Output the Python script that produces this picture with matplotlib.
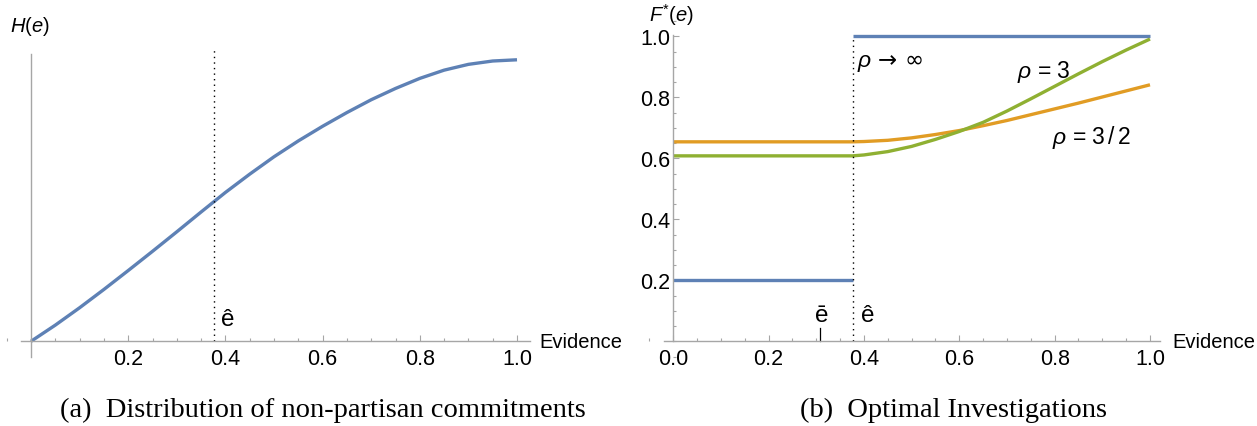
import numpy as np
import matplotlib
matplotlib.use('Agg')
import matplotlib.pyplot as plt
from matplotlib.ticker import MultipleLocator

#%% data
e_hat = 0.376     # dotted threshold
e_bar = 0.307     # small mark on the x axis

# (a) H(e)
e_H = [0.0, 0.05, 0.10, 0.15, 0.20, 0.25, 0.30, 0.35, 0.40, 0.45, 0.50,
       0.55, 0.60, 0.65, 0.70, 0.75, 0.80, 0.85, 0.90, 0.95, 1.0]
H = [0.0, 0.053, 0.110, 0.170, 0.232, 0.295, 0.359, 0.424, 0.488, 0.548, 0.605,
     0.657, 0.705, 0.750, 0.792, 0.829, 0.862, 0.889, 0.908, 0.919, 0.923]

# (b) F*(e)
blue_low = 0.2
blue_high = 1.0
e_F = [0.0, e_hat, 0.40, 0.45, 0.50, 0.55, 0.60, 0.65, 0.70, 0.75, 0.80, 0.85, 0.90, 0.95, 1.0]
F_rho3 = [0.608, 0.608, 0.611, 0.622, 0.639, 0.662, 0.688, 0.718, 0.755, 0.795, 0.836, 0.877, 0.917, 0.955, 0.991]
F_rho15 = [0.654, 0.654, 0.655, 0.659, 0.667, 0.678, 0.691, 0.707, 0.724, 0.743, 0.762, 0.781, 0.801, 0.821, 0.841]

#%% style
plt.rcParams['font.family'] = ['Liberation Sans', 'DejaVu Sans']
plt.rcParams['mathtext.fontset'] = 'custom'
plt.rcParams['mathtext.rm'] = 'Liberation Sans'
plt.rcParams['mathtext.it'] = 'Liberation Sans:italic'
plt.rcParams['mathtext.sf'] = 'Liberation Sans'

BLUE = '#5e81b5'
ORANGE = '#e19c24'
GREEN = '#8fb032'
AX = '#a6a6a6'
FS = 14.5
TFS = 15.5
LW = 2.4

W, Hpx = 1257, 427
fig = plt.figure(figsize=(W / 100, Hpx / 100), dpi=100)


def make_axes(x0, x1, y0, y1, ox, ux, oy, uy):
    # axes box in pixels, and pixel position of data origin / unit size
    ax = fig.add_axes([x0 / W, 1 - y1 / Hpx, (x1 - x0) / W, (y1 - y0) / Hpx])
    ax.set_xlim((x0 - ox) / ux, (x1 - ox) / ux)
    ax.set_ylim((oy - y1) / uy, (oy - y0) / uy)
    ax.patch.set_alpha(0)
    for s in ['top', 'right']:
        ax.spines[s].set_visible(False)
    for s in ['left', 'bottom']:
        ax.spines[s].set_position(('data', 0))
        ax.spines[s].set_color(AX)
        ax.spines[s].set_linewidth(1.0)
    ax.tick_params(which='both', direction='in', colors=AX, labelcolor='black',
                   labelsize=TFS, width=0.8)
    ax.tick_params(which='major', length=4.5)
    ax.tick_params(which='minor', length=2.5)
    return ax


dot_style = dict(color='black', lw=1.0, linestyle=(0, (1, 3)))

#%% (a)
ax1 = make_axes(5, 535, 10, 365, 31, 486, 342.3, 305)
ax1.spines['bottom'].set_bounds(-0.02, 1.027)
ax1.spines['left'].set_bounds(-0.05, 0.942)
ax1.xaxis.set_minor_locator(MultipleLocator(0.05))
ax1.set_xticks([0.2, 0.4, 0.6, 0.8, 1.0])
ax1.set_xticklabels(['0.2', '0.4', '0.6', '0.8', '1.0'])
ax1.set_yticks([])
ax1.tick_params(axis='x', pad=5)

ax1.plot(e_H, H, color=BLUE, lw=LW, solid_capstyle='butt')
ax1.plot([e_hat, e_hat], [0, 0.955], **dot_style)
ax1.text(0.391, 0.073, 'ê', fontsize=FS + 3, va='center', ha='left')
ax1.text(-0.043, 1.034, r'$H(e)$', fontsize=FS, va='center', ha='left')
ax1.text(1.047, 0.0, 'Evidence', fontsize=FS, va='center', ha='left')

#%% (b)
ax2 = make_axes(640, 1165, 10, 365, 673.3, 476.7, 342.3, 305)
ax2.spines['bottom'].set_bounds(-0.02, 1.02)
ax2.spines['left'].set_bounds(0, 1.005)
ax2.xaxis.set_minor_locator(MultipleLocator(0.05))
ax2.set_xticks([0.0, 0.2, 0.4, 0.6, 0.8, 1.0])
ax2.set_xticklabels(['0.0', '0.2', '0.4', '0.6', '0.8', '1.0'])
ax2.set_yticks([0.2, 0.4, 0.6, 0.8, 1.0])
ax2.set_yticklabels(['0.2', '0.4', '0.6', '0.8', '1.0'])
ax2.yaxis.set_minor_locator(MultipleLocator(0.05))
ax2.tick_params(axis='x', pad=5)
ax2.tick_params(axis='y', pad=2)

ax2.plot([0, e_hat], [blue_low, blue_low], color=BLUE, lw=LW, solid_capstyle='butt')
ax2.plot([e_hat, 1.0], [blue_high, blue_high], color=BLUE, lw=LW, solid_capstyle='butt')
ax2.plot(e_F, F_rho15, color=ORANGE, lw=LW, solid_capstyle='butt')
ax2.plot(e_F, F_rho3, color=GREEN, lw=LW, solid_capstyle='butt')
ax2.plot([e_hat, e_hat], [0, 1.0], **dot_style)
ax2.plot([e_bar, e_bar], [0, 0.045], color='black', lw=0.9)

ax2.text(-0.052, 1.072, r'$F^{*}(e)$', fontsize=FS, va='center', ha='left')
ax2.text(0.385, 0.916, r'$\rho$ → ∞', family='DejaVu Sans', fontsize=FS + 2,
         va='center', ha='left')
ax2.text(0.721, 0.886, r'$\rho$ = 3', fontsize=FS + 2, va='center', ha='left')
ax2.text(0.794, 0.670, r'$\rho$ = 3$\,/\,$2', fontsize=FS + 2, va='center', ha='left')
ax2.text(e_bar + 0.004, 0.086, 'ē', fontsize=FS + 3, va='center', ha='center')
ax2.text(0.394, 0.086, 'ê', fontsize=FS + 3, va='center', ha='left')
ax2.text(1.047, 0.0, 'Evidence', fontsize=FS, va='center', ha='left')

#%% captions
cap = dict(fontsize=20.5, family=['Liberation Serif', 'DejaVu Serif'], ha='center', va='center')
fig.text(323 / W, 1 - 410 / Hpx, '(a)  Distribution of non-partisan commitments', **cap)
fig.text(954 / W, 1 - 410 / Hpx, '(b)  Optimal Investigations', **cap)

fig.savefig('out.png', dpi=100)
